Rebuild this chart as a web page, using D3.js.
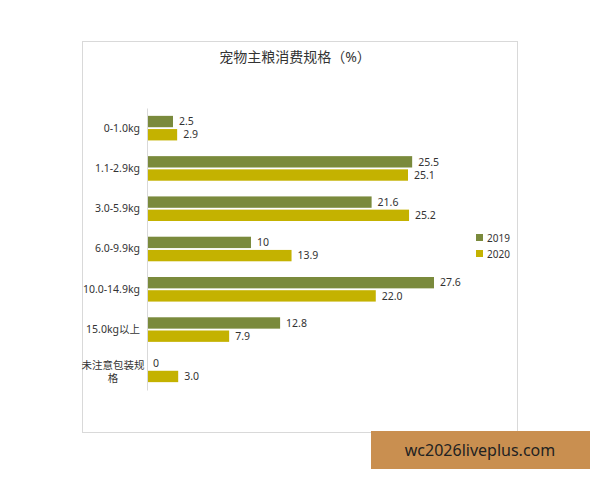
<!DOCTYPE html>
<html>
<head>
<meta charset="utf-8">
<script src="https://cdn.jsdelivr.net/npm/d3@7"></script>
<style>
  body { margin: 0; background: #fff; }
  svg { font-family: "Noto Sans", "Noto Sans CJK SC", sans-serif; }
</style>
</head>
<body>
<div id="chart"></div>
<script>
// data
const categories = ["0-1.0kg", "1.1-2.9kg", "3.0-5.9kg", "6.0-9.9kg", "10.0-14.9kg", "15.0kg以上", "未注意包装规格"]
const seriesNames = ["2019", "2020"]
const values2019 = [2.5, 25.5, 21.6, 10, 27.6, 12.8, 0]
const values2020 = [2.9, 25.1, 25.2, 13.9, 22.0, 7.9, 3.0]
const labels2019 = ["2.5", "25.5", "21.6", "10", "27.6", "12.8", "0"]
const labels2020 = ["2.9", "25.1", "25.2", "13.9", "22.0", "7.9", "3.0"]

const colors = { "2019": "#7a8a3c", "2020": "#c4b200" }

const width = 600, height = 480

const svg = d3.select("#chart").append("svg")
  .attr("width", width)
  .attr("height", height)

// chart frame
svg.append("rect")
  .attr("x", 82.5).attr("y", 41.5)
  .attr("width", 435).attr("height", 391)
  .attr("fill", "#fff")
  .attr("stroke", "#d9d9d9")

svg.append("text")
  .attr("x", 295).attr("y", 62)
  .attr("text-anchor", "middle")
  .style("font-size", "14px")
  .style("fill", "#333")
  .text("宠物主粮消费规格（%）")

const x = d3.scaleLinear()
  .domain([0, 27.6])
  .range([147, 434])

const y = d3.scaleBand()
  .domain(categories)
  .range([108, 390])
  .paddingInner(0.39)
  .paddingOuter(0.195)

const ySub = d3.scaleBand()
  .domain(seriesNames)
  .range([0, y.bandwidth()])
  .paddingInner(0.14)

const rows = categories.map((c, i) => ({
  cat: c,
  vals: [
    { s: "2019", v: values2019[i], t: labels2019[i] },
    { s: "2020", v: values2020[i], t: labels2020[i] }
  ]
}))

const g = svg.append("g")

const grp = g.selectAll(".grp")
  .data(rows)
  .join("g")
  .attr("class", "grp")
  .attr("transform", d => `translate(0,${y(d.cat)})`)

grp.selectAll("rect")
  .data(d => d.vals)
  .join("rect")
  .attr("x", x(0))
  .attr("y", d => ySub(d.s))
  .attr("width", d => x(d.v) - x(0))
  .attr("height", ySub.bandwidth())
  .attr("fill", d => colors[d.s])

grp.selectAll(".val")
  .data(d => d.vals)
  .join("text")
  .attr("class", "val")
  .attr("x", d => x(d.v) + 6)
  .attr("y", d => ySub(d.s) + ySub.bandwidth() / 2)
  .attr("dy", "0.35em")
  .style("font-size", "10.5px")
  .style("fill", "#333")
  .text(d => d.t)

// y axis
const yAxis = svg.append("g")
  .attr("transform", `translate(${x(0)},0)`)
  .call(d3.axisLeft(y).tickSize(0).tickPadding(7))

yAxis.select(".domain").attr("stroke", "#d9d9d9")
yAxis.selectAll(".tick text")
  .style("font-size", "10.5px")
  .style("fill", "#333")
  .style("font-family", "\"Noto Sans\", \"Noto Sans CJK SC\", sans-serif")
  .each(function (d) {
    // the last label wraps onto two lines, centred
    if (d === categories[6]) {
      const t = d3.select(this)
      t.text(null).attr("text-anchor", "middle").attr("dy", null)
      const cx = -7 - 27
      t.append("tspan").attr("x", cx).attr("y", -1).text(d.slice(0, 6))
      t.append("tspan").attr("x", cx).attr("y", 12).text(d.slice(6))
    }
  })

// legend
const legend = svg.append("g")
  .attr("transform", "translate(476,234)")

const li = legend.selectAll("g")
  .data(seriesNames)
  .join("g")
  .attr("transform", (d, i) => `translate(0,${i * 16})`)

li.append("rect")
  .attr("width", 7).attr("height", 7)
  .attr("fill", d => colors[d])

li.append("text")
  .attr("x", 11).attr("y", 4)
  .attr("dy", "0.35em")
  .style("font-size", "10px")
  .style("fill", "#333")
  .text(d => d)

// watermark box
svg.append("rect")
  .attr("x", 371).attr("y", 431)
  .attr("width", 219).attr("height", 38)
  .attr("fill", "#c98f50")

svg.append("text")
  .attr("x", 480).attr("y", 450)
  .attr("dy", "0.35em")
  .attr("text-anchor", "middle")
  .style("font-size", "16px")
  .style("fill", "#222")
  .text("wc2026liveplus.com")
</script>
</body>
</html>
